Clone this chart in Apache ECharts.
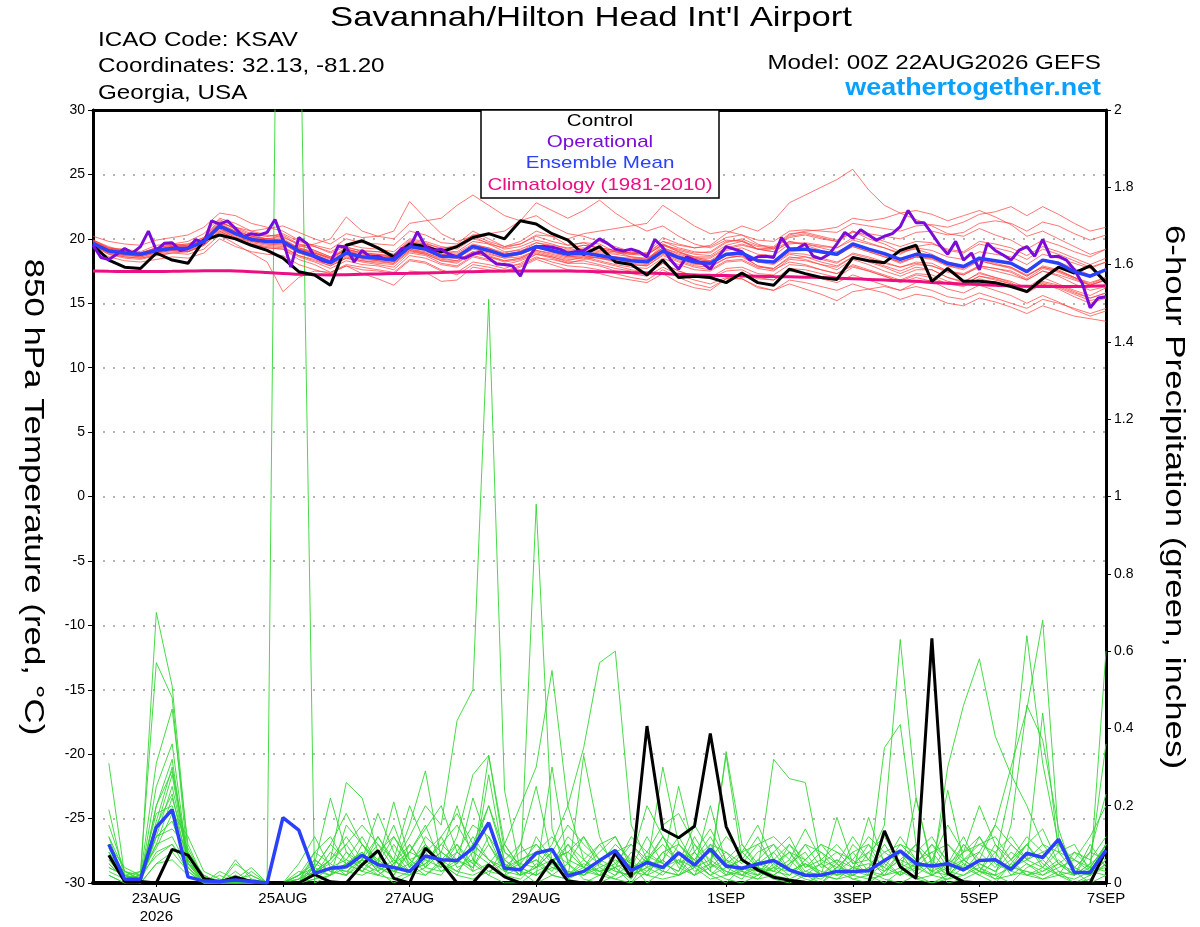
<!DOCTYPE html>
<html>
<head>
<meta charset="utf-8">
<script src="https://cdn.jsdelivr.net/npm/echarts@6/dist/echarts.min.js"></script>
<style>
html,body{margin:0;padding:0;background:#fff;}
#chart{width:1200px;height:927px;}
</style>
</head>
<body>
<div id="chart"></div>
<script>
// ---- x axis tick labels (hours after 00Z 22AUG2026) ----
const tickHours = [24, 72, 120, 168, 240, 288, 336, 384];
const tickLabels = ['23AUG\n2026', '25AUG', '27AUG', '29AUG', '1SEP', '3SEP', '5SEP', '7SEP'];

// ---- 850 hPa temperature, 6-hourly from 00Z 22AUG (65 points) ----
const controlTemp = [
19.5,18.35,17.8,17.7,18.9,18.35,18.1,19.9,20.3,20.0,19.5,19.1,18.5,
17.45,17.2,16.4,19.5,19.85,19.3,18.6,19.6,19.4,19.0,19.4,20.1,20.4,
20.0,21.4,21.15,20.4,19.9,18.8,19.4,18.2,18.0,17.2,18.35,17.0,17.1,
17.0,16.6,17.35,16.6,16.4,17.65,17.3,17.0,16.85,18.55,18.3,18.15,19.1,
19.5,16.7,17.7,16.7,16.7,16.6,16.3,15.9,16.9,17.8,17.35,17.9,16.6];
const meanTemp = [
19.65,19.05,18.9,18.8,19.1,19.25,19.25,19.8,21.0,20.4,19.95,19.8,19.8,
19.05,18.65,18.15,18.9,18.6,18.5,18.35,19.4,19.2,18.65,18.6,19.4,19.1,
18.7,18.9,19.4,19.1,18.8,18.9,18.7,18.5,18.3,18.2,19.05,18.55,18.2,
18.1,18.8,18.9,18.3,18.2,19.2,19.2,19.0,18.8,19.6,19.2,18.85,18.4,
18.8,18.65,18.1,17.85,18.5,18.3,18.1,17.45,18.35,18.1,17.45,17.1,17.6];
const climoTemp = [
17.5,17.48,17.47,17.46,17.47,17.48,17.5,17.52,17.53,17.5,17.45,17.38,17.3,
17.25,17.22,17.2,17.22,17.25,17.28,17.3,17.32,17.35,17.38,17.42,17.45,17.48,
17.5,17.5,17.5,17.5,17.5,17.48,17.45,17.42,17.38,17.35,17.3,17.25,17.2,
17.17,17.15,17.12,17.1,17.07,17.05,17.02,17.0,16.95,16.9,16.85,16.8,16.75,
16.7,16.62,16.55,16.5,16.45,16.4,16.35,16.32,16.3,16.3,16.3,16.32,16.35];

// ---- operational temperature, 3-hourly (129 points) ----
const operTemp = [
19.5,18.55,18.4,18.8,19.25,18.9,19.4,20.6,19.1,19.65,19.7,19.1,19.25,19.95,19.65,21.4,
21.15,21.4,20.8,20.15,20.4,20.3,20.5,21.5,19.9,17.8,20.1,19.65,18.6,18.3,18.15,19.45,
19.35,18.2,19.1,18.6,18.65,18.4,18.5,19.25,19.3,20.55,19.4,19.1,19.2,18.8,18.6,18.5,
18.8,19.0,18.5,18.05,18.0,17.9,17.1,18.5,19.4,19.4,19.35,19.2,18.9,19.0,19.1,19.5,
20.0,19.65,19.2,19.05,19.2,19.0,18.6,19.95,19.35,18.35,17.65,18.6,18.35,18.1,17.65,18.6,
19.4,19.2,19.0,18.35,18.6,18.65,18.55,20.1,19.2,19.25,19.6,18.65,18.45,18.8,19.6,20.5,
20.05,20.7,20.3,19.9,20.2,20.4,20.95,22.2,21.25,21.25,20.4,19.5,18.8,19.8,18.35,18.9,
17.6,19.65,19.1,18.75,18.35,19.1,19.4,18.65,19.95,18.6,18.65,18.35,17.6,16.55,14.65,15.4,
15.5];

// ---- ensemble member temperatures (65 points each) ----
const ensT1 = [
19.9,19.3,19.2,19.0,19.5,19.6,19.8,20.4,21.6,21.2,20.6,20.3,20.1,
19.6,19.4,18.9,19.4,19.0,19.0,18.8,19.9,19.7,19.2,19.5,20.3,19.8,
19.4,19.8,20.6,20.2,19.5,19.7,19.6,19.0,18.9,18.9,20.1,19.6,19.3,
19.5,20.4,21.0,20.6,21.4,22.8,23.4,24.0,24.6,25.4,23.8,22.6,22.0,
21.5,21.0,20.4,20.2,20.8,20.3,19.9,19.2,19.9,19.5,19.0,18.6,19.2];
const ensT2 = [
19.4,18.8,18.5,18.4,18.7,18.9,19.0,19.5,20.5,20.0,19.6,19.3,19.2,
18.6,18.2,17.7,18.3,18.0,17.9,17.6,18.7,18.5,18.0,17.8,18.6,18.3,
17.9,18.0,18.6,18.2,17.9,17.8,17.6,17.3,17.0,16.8,17.6,17.0,16.5,
16.2,16.9,16.9,16.3,16.0,16.8,16.6,16.3,16.0,16.5,16.1,15.8,15.3,
15.7,15.5,15.0,14.8,15.4,15.1,14.7,14.2,14.8,14.4,14.0,13.8,13.6];
const ensT3 = [
19.8,19.2,19.1,18.9,19.3,19.6,19.4,20.0,21.3,20.8,20.3,20.2,20.4,
19.8,19.5,19.2,20.0,19.7,19.6,19.5,20.6,20.3,19.7,19.6,20.6,20.0,
19.4,19.6,20.2,19.8,19.5,19.7,19.2,19.0,18.6,18.4,19.3,18.6,18.1,
17.9,18.5,18.7,17.9,17.7,18.6,18.4,18.0,17.6,18.4,18.0,17.5,17.1,
17.6,17.6,17.0,16.6,17.4,17.0,16.7,16.2,17.0,16.5,16.0,15.6,16.2];
const ensT4 = [
19.6,19.0,18.7,18.7,19.0,19.2,19.2,19.9,21.2,20.9,20.6,20.8,21.0,
20.5,20.0,19.6,20.4,20.1,20.2,20.0,21.2,21.4,21.6,22.6,23.4,22.6,
21.8,21.4,21.8,21.0,20.4,20.2,19.8,19.4,19.0,18.8,19.5,19.0,18.6,
18.3,18.8,18.9,18.4,18.1,18.9,18.8,18.5,18.2,18.8,18.5,18.1,17.8,
18.1,17.9,17.5,17.2,17.8,17.5,17.2,16.8,17.5,17.2,16.8,16.4,16.9];
const ensT5 = [
19.5,18.9,18.6,18.5,18.7,18.9,18.8,19.2,20.3,19.6,18.9,18.2,15.9,
17.0,17.5,17.4,18.0,17.8,17.6,17.4,18.4,18.2,17.6,17.2,18.0,17.8,
17.5,17.9,18.5,18.4,18.1,18.4,18.6,18.3,18.2,18.4,19.5,19.2,18.9,
19.0,19.8,19.9,19.2,19.0,19.8,19.6,19.3,19.0,19.6,19.1,18.7,18.2,
18.6,18.5,17.9,17.6,18.3,18.0,17.8,17.1,17.9,17.6,17.0,16.5,17.0];
const ensT6 = [
19.9,19.4,19.0,18.9,19.2,19.4,19.5,20.0,21.1,20.6,20.2,20.0,20.0,
19.3,18.9,18.5,19.2,18.9,18.8,18.7,19.7,19.6,19.3,19.4,20.3,20.4,
20.6,21.4,22.8,22.2,21.6,22.2,23.0,22.0,21.2,20.6,21.0,20.2,19.6,
19.3,19.9,19.8,19.2,19.0,19.7,19.6,19.4,19.3,19.9,19.6,19.3,18.9,
19.3,19.1,18.6,18.4,19.0,18.8,18.6,18.0,18.8,18.5,18.1,17.7,18.2];
const ensT7 = [
19.6,19.0,18.8,18.6,18.9,19.1,19.0,19.6,20.8,20.1,19.7,19.5,19.4,
18.7,18.3,17.9,18.5,18.2,18.0,17.8,18.9,18.7,18.1,17.9,18.7,18.4,
18.0,18.3,18.8,18.5,18.1,18.1,17.9,17.5,17.3,17.1,17.8,17.2,16.8,
16.5,17.0,16.9,16.2,16.0,16.5,16.1,15.7,15.2,15.9,16.1,16.3,16.0,
16.6,16.8,16.5,16.4,17.1,16.9,16.5,16.0,16.6,16.3,15.8,15.4,15.8];
const ensT8 = [
19.7,19.2,19.0,18.9,19.2,19.3,19.4,19.9,21.0,20.5,20.0,19.8,19.7,
19.0,18.7,18.3,19.0,18.7,18.6,18.5,19.5,19.3,18.8,18.7,19.5,19.2,
18.8,19.0,19.5,19.3,19.0,19.2,19.0,18.9,18.8,18.9,19.8,19.5,19.3,
19.4,20.1,20.3,19.9,19.8,20.6,20.7,20.6,20.5,21.2,21.0,20.8,20.6,
21.0,21.1,20.9,21.3,21.9,22.1,22.5,21.8,22.5,21.9,21.2,20.6,20.9];
const ensT9 = [
19.8,19.1,18.8,18.8,19.1,19.3,19.4,19.7,20.7,20.1,19.8,19.6,19.5,
19.4,19.6,20.0,21.7,20.6,20.2,20.6,22.9,21.6,20.4,19.8,20.2,19.6,
19.0,19.1,19.4,19.0,18.6,18.7,18.5,18.2,18.0,17.9,18.7,18.2,17.8,
17.6,18.3,18.4,17.8,17.7,18.5,18.6,18.4,18.1,18.9,18.6,18.2,17.8,
18.2,18.1,17.5,17.3,17.9,17.7,17.5,16.9,17.7,17.4,16.9,16.4,16.8];
const ensT10 = [
19.5,18.8,18.6,18.5,18.8,19.0,19.0,19.5,20.6,20.0,19.5,19.3,19.2,
18.4,18.0,17.4,17.9,17.3,16.9,16.4,17.5,17.4,16.7,16.8,17.8,17.6,
17.4,17.8,18.4,18.0,17.6,17.5,17.3,17.0,16.8,16.6,17.3,16.6,16.2,
16.0,16.9,17.3,16.9,16.8,17.7,17.6,17.3,17.0,17.8,17.5,17.1,16.7,
17.2,17.0,16.5,16.3,16.9,16.6,16.4,15.8,16.5,16.2,15.7,15.2,15.5];
const ensT11 = [
19.7,19.1,19.0,18.9,19.3,19.5,19.6,20.1,21.5,20.9,20.4,20.2,20.3,
19.6,19.1,18.6,19.1,18.7,18.6,18.3,19.2,18.9,18.4,18.3,19.0,18.8,
18.5,18.8,19.3,19.1,18.9,19.1,18.9,18.8,18.6,18.5,19.3,18.9,18.6,
18.6,19.3,19.6,19.2,19.2,20.2,20.4,20.1,19.8,20.6,20.0,19.6,19.0,
19.2,18.8,18.2,17.9,18.4,18.1,17.8,17.2,17.8,17.5,17.0,16.4,16.8];
const ensT12 = [
19.6,19.0,18.8,18.7,19.0,19.2,19.1,19.6,20.9,20.3,19.9,19.7,19.9,
19.3,19.0,18.5,19.2,18.9,18.7,18.6,19.6,19.3,18.8,18.6,19.4,19.0,
18.7,19.0,19.7,19.5,19.3,19.5,19.3,19.1,18.9,18.8,19.6,19.0,18.5,
18.2,18.7,18.6,17.9,17.6,18.2,18.0,17.6,17.3,17.9,17.5,17.1,16.6,
17.0,16.7,16.1,15.8,16.4,16.0,15.6,15.0,15.6,15.1,14.5,14.0,14.4];
const ensT13 = [
19.8,19.3,19.1,18.9,19.2,19.4,19.3,19.8,20.8,20.3,20.1,20.0,20.2,
19.5,19.1,18.6,19.3,19.1,19.0,18.8,19.8,19.6,19.0,18.9,19.6,19.3,
18.8,18.9,19.3,19.0,18.8,19.0,18.8,18.6,18.5,18.4,19.2,18.7,18.4,
18.3,19.1,19.3,18.8,18.7,19.6,19.7,19.5,19.3,20.1,19.7,19.3,18.8,
19.4,19.6,19.2,19.0,19.8,19.6,19.3,18.7,19.4,19.0,18.5,18.0,18.5];
const ensT14 = [
19.6,19.0,18.9,18.8,19.0,19.2,19.3,19.7,20.9,20.4,19.9,19.7,19.6,
18.9,18.5,18.0,18.6,18.3,18.2,18.1,19.1,18.9,18.5,18.3,19.0,18.7,
18.3,18.5,19.1,18.9,18.6,18.7,18.5,18.3,18.1,18.0,18.9,18.4,18.0,
18.0,18.7,18.8,18.3,18.2,19.0,19.1,18.9,18.7,19.4,19.0,18.6,18.1,
18.6,18.5,18.0,17.8,18.5,18.3,18.1,17.6,18.4,18.2,17.7,17.2,17.7];
const ensT15 = [
19.7,19.2,18.9,18.8,19.1,19.4,19.3,19.9,21.1,20.5,20.1,19.9,19.8,
19.1,18.8,18.3,18.8,18.5,18.4,18.3,19.3,19.1,18.6,18.5,19.3,19.0,
18.6,18.8,19.3,19.1,18.8,18.9,18.7,18.6,18.4,18.4,19.3,18.8,18.5,
18.5,19.2,19.5,19.2,19.3,20.3,20.6,20.7,20.9,21.6,21.4,21.6,22.0,
22.2,21.9,21.4,21.8,22.2,21.7,21.1,20.2,20.6,20.0,19.4,18.8,19.2];
const ensT16 = [
19.9,19.3,19.0,18.9,19.3,19.5,19.6,20.1,21.4,20.7,20.2,20.0,19.9,
19.2,18.8,18.1,18.7,18.4,18.3,18.2,19.2,19.0,18.6,18.5,19.2,18.9,
18.5,18.6,19.1,18.8,18.5,18.6,18.3,18.0,17.8,17.7,18.5,18.0,17.6,
17.5,18.2,18.3,17.7,17.5,18.4,18.3,18.0,17.8,18.6,18.2,17.8,17.3,
17.8,17.6,17.0,16.7,17.3,17.0,16.6,15.9,16.5,16.1,15.5,15.0,15.4];
const ensT17 = [
20.2,19.8,19.6,19.5,19.9,20.1,20.3,20.9,22.0,21.8,21.2,20.9,20.6,
19.9,19.4,19.0,19.6,19.3,19.2,19.0,20.0,19.8,19.4,19.2,20.0,19.7,
19.2,19.4,19.9,19.6,19.2,19.5,19.3,19.1,18.9,18.8,19.8,19.3,19.0,
18.9,19.7,20.0,19.5,19.4,20.4,20.5,20.2,19.9,20.6,20.2,19.8,19.4,
19.8,19.7,19.1,18.9,19.6,19.3,19.0,18.4,19.2,18.8,18.3,17.8,18.2];
const ensT18 = [
19.3,18.6,18.3,18.2,18.4,18.6,18.5,18.9,20.0,19.4,19.0,18.8,18.7,
18.0,17.6,17.3,17.9,17.6,17.5,17.3,18.3,18.1,17.5,17.4,18.2,18.0,
17.7,18.1,18.8,18.6,18.3,18.6,18.5,18.3,18.0,17.9,18.8,18.3,17.9,
17.8,18.5,18.7,18.2,18.0,18.8,18.6,18.2,17.9,18.6,18.3,17.9,17.5,
18.0,17.9,17.4,17.2,17.9,17.7,17.4,16.8,17.5,17.1,16.5,16.0,16.3];
const ensT19 = [
19.7,19.0,18.8,18.7,19.1,19.2,19.3,19.9,21.1,20.5,20.0,19.9,19.8,
19.2,18.9,18.4,19.1,18.8,18.7,18.6,19.6,19.4,18.9,18.8,19.5,19.3,
18.9,19.2,19.7,19.4,19.1,19.3,19.1,19.0,18.8,18.7,19.6,19.1,18.8,
18.7,19.5,19.8,19.4,19.3,20.1,20.3,20.0,19.8,20.5,20.4,20.2,20.0,
20.5,20.6,20.3,20.5,21.2,21.4,21.2,20.6,21.3,21.0,20.4,19.9,20.3];
const ensT20 = [
19.6,19.1,18.9,18.7,19.0,19.3,19.2,19.7,20.8,20.2,19.8,19.6,19.6,
18.9,18.6,18.2,18.8,18.5,18.3,18.1,19.1,18.8,18.3,18.2,18.9,18.6,
18.3,18.5,19.0,18.7,18.4,18.5,18.2,17.9,17.6,17.4,18.1,17.5,17.1,
16.9,17.5,17.6,17.0,16.8,17.5,17.3,16.9,16.6,17.2,16.8,16.4,16.0,
16.3,16.0,15.5,15.3,15.8,15.4,15.0,14.6,15.3,15.0,14.6,14.2,14.6];
const ensT21 = [
19.8,19.2,19.0,18.9,19.2,19.4,19.5,20.0,21.2,20.6,20.2,20.0,19.9,
19.2,18.9,18.5,19.2,18.9,18.8,18.6,19.6,19.5,19.1,19.0,19.8,19.6,
19.3,19.6,20.3,20.2,20.0,20.4,20.6,20.8,21.0,21.2,22.6,21.8,21.0,
20.4,20.6,20.3,19.6,19.2,19.8,19.5,19.1,18.8,19.4,19.0,18.6,18.2,
18.6,18.4,17.9,17.7,18.3,18.0,17.7,17.1,17.8,17.5,17.0,16.6,17.0];
const ensT22 = [
19.5,18.9,18.7,18.6,18.9,19.1,19.0,19.5,20.6,20.0,19.6,19.4,19.3,
18.7,18.4,17.9,18.5,18.3,18.1,18.0,19.0,18.8,18.3,18.1,18.9,18.6,
18.2,18.4,18.9,18.6,18.2,18.3,18.0,17.7,17.5,17.3,18.1,17.5,17.1,
17.0,17.7,17.8,17.3,17.2,18.0,17.9,17.6,17.3,18.0,17.6,17.2,16.8,
17.3,17.2,16.7,16.5,17.1,16.8,16.5,15.9,16.7,16.4,15.9,15.4,15.8];

// ---- 6-hour precipitation, from 06Z 22AUG (64 points) ----
const controlPrecip = [
0.072,0.004,0.004,0,0.087,0.072,0.012,0.003,0.015,0.004,0,0,0,0.022,0.003,0,
0.047,0.084,0.012,0,0.09,0.052,0,0,0.047,0.016,0,0,0.06,0.005,0,0,
0.077,0.015,0.406,0.139,0.117,0.147,0.387,0.146,0.06,0.034,0.015,0.007,0.002,0,0,0,
0,0.135,0.042,0.012,0.633,0.025,0.003,0,0,0,0,0,0,0,0,0.085];
const meanPrecip = [
0.1,0.01,0.01,0.144,0.19,0.016,0.005,0.004,0.008,0.004,0,0.169,0.137,0.025,0.038,0.042,
0.072,0.047,0.04,0.03,0.07,0.06,0.058,0.09,0.156,0.038,0.034,0.077,0.087,0.018,0.03,0.058,
0.084,0.032,0.053,0.04,0.078,0.046,0.088,0.044,0.038,0.049,0.058,0.034,0.02,0.02,0.03,0.03,
0.032,0.058,0.083,0.05,0.044,0.05,0.034,0.058,0.06,0.035,0.077,0.066,0.113,0.027,0.027,0.085];

const ensP1 = [
0.05,0.01,0.02,0.12,0.25,0.06,0,0,0,0,0,4.0,2.5,0,0.02,0.05,
0.08,0.03,0,0.02,0.06,0.04,0.1,0.05,0.02,0,0,0.03,0.05,0.01,0,0.02,
0.04,0,0.03,0.06,0.02,0.08,0.03,0.01,0,0.02,0.04,0.01,0,0.02,0.05,0.01,
0,0.03,0.08,0.02,0,0.01,0.04,0.02,0,0.05,0.02,0.01,0.03,0,0.02,0.06];
const ensP2 = [
0.31,0.02,0.01,0.7,0.51,0.08,0.01,0,0,0,0,0,0,0.03,0.06,0.1,
0.04,0.02,0.05,0.12,0.2,0.15,0.42,0.5,1.51,0.24,0.03,0,0.02,0.05,0.01,0,
0.02,0.05,0,0.03,0.1,0.06,0.02,0,0.04,0.03,0.01,0,0.02,0,0.04,0.08,
0.03,0.01,0,0.02,0.05,0,0.01,0.03,0.02,0,0.04,0.06,0.02,0,0.01,0.05];
const ensP3 = [
0.19,0.01,0.03,0.57,0.48,0.05,0,0,0.02,0,0,0,0,0.05,0.03,0.02,
0.1,0.06,0.03,0.08,0.15,0.05,0.02,0.1,0.2,0.06,0.02,0.98,0.14,0.02,0.05,0.03,
0.01,0,0.06,0.12,0.04,0.02,0.05,0.03,0.01,0.06,0.1,0.03,0.01,0,0.03,0.02,
0.04,0.1,0.04,0.01,0,0.02,0.06,0.03,0.01,0.05,0.1,0.04,0.02,0.03,0,0.02];
const ensP4 = [
0.15,0.03,0.02,0.31,0.45,0.1,0.01,0,0,0,0,0,0,0.02,0.08,0.05,
0.03,0.08,0.12,0.05,0.02,0.06,0.1,0.03,0.05,0.1,0.2,0.3,0.55,0.2,0.06,0.02,
0.04,0.01,0.07,0.05,0.03,0.1,0.04,0.06,0.02,0.01,0.05,0.08,0.02,0.01,0.04,0.03,
0.02,0,0.03,0.05,0.02,0.04,0.1,0.06,0.15,0.3,0.45,0.68,0.12,0.04,0.02,0.05];
const ensP5 = [
0.12,0,0.01,0.25,0.36,0.05,0,0,0,0,0,0,0.01,0.03,0.05,0.02,
0.06,0.04,0.02,0.1,0.04,0.08,0.05,0.12,0.06,0.03,0.05,0.04,0.1,0.2,0.35,0.57,
0.6,0.15,0.06,0.03,0.02,0.05,0.08,0.04,0.02,0.06,0.03,0.1,0.06,0.02,0.01,0.04,
0.05,0.03,0.06,0.1,0.02,0.3,0.46,0.58,0.38,0.28,0.2,0.1,0.05,0.02,0.08,0.23];
const ensP6 = [
0.1,0.02,0,0.2,0.29,0.07,0.02,0,0.05,0.02,0,0,0,0.01,0.04,0.06,
0.12,0.05,0.21,0.06,0.03,0.02,0.08,0.05,0.33,0.1,0.04,0.06,0.02,0.01,0.33,0.12,
0.03,0.02,0.04,0.3,0.1,0.05,0.02,0.06,0.04,0.02,0.08,0.03,0.05,0.02,0.17,0.05,
0.06,0.15,0.63,0.22,0.05,0.03,0.08,0.12,0.06,0.25,0.64,0.31,0.1,0.04,0.02,0.6];
const ensP7 = [
0.08,0.01,0.02,0.15,0.23,0.04,0,0.03,0.01,0.04,0,0,0.02,0.05,0.22,0.08,
0.05,0.1,0.04,0.15,0.29,0.06,0.03,0.08,0.05,0.02,0.1,0.25,0.06,0.03,0.02,0.06,
0.08,0.04,0.12,0.05,0.25,0.08,0.03,0.34,0.1,0.04,0.02,0.05,0.08,0.02,0.03,0.01,
0.02,0.35,0.41,0.1,0.03,0.05,0.12,0.04,0.02,0.15,0.46,0.37,0.14,0.02,0.05,0.36];
const ensP8 = [
0.06,0.03,0.01,0.12,0.14,0.09,0.01,0,0.06,0.01,0,0,0.03,0.02,0.06,0.26,
0.22,0.08,0.03,0.05,0.1,0.04,0.12,0.28,0.33,0.08,0.04,0.02,0.3,0.05,0.02,0.04,
0.06,0.03,0.08,0.05,0.03,0.12,0.05,0.33,0.06,0.03,0.32,0.27,0.26,0.05,0.02,0.03,
0.17,0.05,0.02,0.22,0.04,0.24,0.06,0.03,0.1,0.04,0.06,0.44,0.08,0.03,0.02,0.1];
const ensP9 = [
0.04,0.02,0.03,0.09,0.18,0.12,0.03,0.01,0,0.03,0,0,0.05,0.12,0.04,0.03,
0.06,0.18,0.08,0.03,0.05,0.1,0.06,0.03,0.28,0.05,0.02,0.12,0.06,0.08,0.04,0.1,
0.05,0.1,0.06,0.04,0.08,0.03,0.05,0.02,0.08,0.1,0.05,0.02,0.06,0.1,0.05,0.02,
0.04,0.08,0.05,0.03,0.06,0.02,0.1,0.05,0.03,0.08,0.05,0.02,0.04,0.06,0.03,0.1];
const ensP10 = [
0.02,0,0.01,0.08,0.1,0.05,0.02,0,0.03,0,0,0,0.02,0.08,0.12,0.05,
0.03,0.06,0.15,0.04,0.08,0.03,0.05,0.1,0.06,0.02,0.04,0.06,0.03,0.1,0.06,0.03,
0.04,0.06,0.02,0.08,0.05,0.15,0.08,0.02,0.04,0.05,0.03,0.06,0.02,0.05,0.08,0.04,
0.1,0.03,0.06,0.04,0.02,0.05,0.03,0.08,0.04,0.1,0.06,0.08,0.03,0.02,0.05,0.08];
const ensP11 = [
0.03,0.01,0,0.05,0.08,0.03,0,0.02,0,0,0,0,0,0.04,0.02,0.15,
0.1,0.04,0.02,0.08,0.14,0.2,0.08,0.04,0.12,0.03,0.06,0.08,0.04,0.02,0.06,0.1,
0.12,0.04,0.06,0.1,0.05,0.02,0.04,0.08,0.03,0.02,0.06,0.1,0.04,0.08,0.03,0.06,
0.02,0.05,0.12,0.06,0.03,0.1,0.05,0.02,0.06,0.04,0.1,0.05,0.02,0.08,0.04,0.03];
const ensP12 = [
0.1,0.04,0.02,0.18,0.2,0.06,0.01,0,0,0.01,0,0,0.01,0.06,0.03,0.02,
0.05,0.03,0.06,0.03,0.05,0.08,0.2,0.06,0.03,0.05,0.02,0.04,0.08,0.05,0.12,0.04,
0.02,0.08,0.04,0.02,0.06,0.04,0.2,0.05,0.08,0.04,0.02,0.05,0.1,0.04,0.06,0.02,
0.08,0.04,0.02,0.05,0.1,0.06,0.04,0.12,0.05,0.03,0.02,0.04,0.08,0.1,0.03,0.04];
const ensP13 = [
0.07,0.02,0.01,0.1,0.12,0.04,0,0,0.02,0,0,0,0,0.02,0.04,0.03,
0.02,0.04,0.03,0.02,0.1,0.05,0.03,0.02,0.04,0.06,0.03,0.02,0.04,0.03,0.02,0.05,
0.03,0.02,0.05,0.03,0.02,0.04,0.06,0.03,0.02,0.04,0.03,0.02,0.05,0.03,0.02,0.04,
0.03,0.02,0.04,0.06,0.03,0.02,0.05,0.03,0.02,0.04,0.03,0.02,0.05,0.03,0.02,0.06];
const ensP14 = [
0.02,0,0,0.05,0.06,0.02,0,0,0,0,0,0,0,0.01,0.02,0.04,
0.06,0.02,0.01,0.03,0.02,0.05,0.02,0.01,0.03,0.02,0.01,0.05,0.02,0.01,0.03,0.02,
0.01,0.03,0.02,0.01,0.02,0.04,0.01,0.02,0.03,0.01,0.02,0.01,0.03,0.02,0.01,0.02,
0.01,0.02,0.03,0.01,0.02,0.01,0.02,0.04,0.01,0.02,0.03,0.01,0.02,0.01,0.03,0.02];
const ensP15 = [
0.05,0.01,0.02,0.07,0.1,0.03,0,0,0,0,0,0,0.02,0.04,0.1,0.06,
0.04,0.12,0.06,0.02,0.04,0.03,0.06,0.04,0.1,0.03,0.02,0.04,0.06,0.02,0.04,0.03,
0.05,0.02,0.04,0.06,0.12,0.05,0.02,0.04,0.06,0.12,0.04,0.03,0.05,0.02,0.06,0.04,
0.03,0.06,0.02,0.04,0.08,0.03,0.02,0.05,0.03,0.06,0.02,0.03,0.05,0.02,0.04,0.1];
const ensP16 = [
0.09,0.02,0,0.12,0.16,0.05,0.01,0,0,0,0,0,0,0.03,0.02,0.08,
0.03,0.02,0.05,0.1,0.04,0.12,0.04,0.06,0.02,0.1,0.04,0.02,0.05,0.1,0.04,0.02,
0.08,0.05,0.02,0.04,0.06,0.02,0.1,0.04,0.06,0.02,0.04,0.08,0.03,0.05,0.02,0.1,
0.06,0.02,0.08,0.04,0.05,0.02,0.06,0.03,0.08,0.02,0.05,0.03,0.06,0.02,0.1,0.04];
const ensP17 = [
0.12,0.03,0.01,0.2,0.32,0.04,0,0.01,0,0,0,0,0.01,0.04,0.1,0.18,
0.1,0.05,0.12,0.06,0.08,0.12,0.18,0.1,0.06,0.04,0.08,0.1,0.05,0.12,0.08,0.05,
0.1,0.06,0.2,0.12,0.05,0.08,0.14,0.06,0.1,0.05,0.08,0.12,0.04,0.06,0.1,0.05,
0.08,0.12,0.05,0.1,0.06,0.15,0.08,0.1,0.12,0.06,0.1,0.14,0.05,0.08,0.06,0.12];
const ensP18 = [
0.06,0.01,0.02,0.1,0.22,0.08,0.02,0,0.01,0.02,0,0,0,0.08,0.05,0.1,
0.15,0.1,0.06,0.2,0.1,0.05,0.08,0.15,0.12,0.06,0.1,0.04,0.08,0.15,0.1,0.06,
0.04,0.12,0.08,0.15,0.18,0.1,0.06,0.12,0.08,0.15,0.06,0.04,0.1,0.08,0.05,0.12,
0.06,0.04,0.1,0.08,0.12,0.05,0.08,0.2,0.1,0.06,0.12,0.08,0.1,0.04,0.08,0.06];
const ensP19 = [
0.04,0.02,0,0.14,0.28,0.05,0.01,0,0,0.01,0,0,0.02,0.06,0.03,0.05,
0.08,0.03,0.1,0.04,0.12,0.08,0.05,0.22,0.1,0.04,0.06,0.08,0.12,0.06,0.04,0.08,
0.12,0.05,0.03,0.08,0.1,0.06,0.12,0.05,0.03,0.08,0.1,0.06,0.14,0.06,0.04,0.08,
0.1,0.06,0.08,0.05,0.1,0.04,0.06,0.1,0.08,0.12,0.06,0.04,0.1,0.06,0.12,0.2];
const ensP20 = [
0.08,0.02,0.01,0.16,0.3,0.06,0,0,0.01,0,0,0,0,0.03,0.06,0.12,
0.06,0.12,0.05,0.08,0.06,0.1,0.15,0.08,0.2,0.08,0.05,0.1,0.06,0.08,0.12,0.06,
0.08,0.1,0.05,0.12,0.08,0.06,0.1,0.08,0.05,0.1,0.12,0.08,0.06,0.1,0.08,0.06,
0.12,0.08,0.1,0.06,0.08,0.1,0.06,0.08,0.15,0.1,0.06,0.1,0.08,0.06,0.04,0.1];

const ensTemps = [ensT1,ensT2,ensT3,ensT4,ensT5,ensT6,ensT7,ensT8,ensT9,ensT10,ensT11,
  ensT12,ensT13,ensT14,ensT15,ensT16,ensT17,ensT18,ensT19,ensT20,ensT21,ensT22];
const ensPrecips = [ensP1,ensP2,ensP3,ensP4,ensP5,ensP6,ensP7,ensP8,ensP9,ensP10,
  ensP11,ensP12,ensP13,ensP14,ensP15,ensP16,ensP17,ensP18,ensP19,ensP20];

// ---- helpers: attach forecast hour to each value ----
const tempPairs = arr => arr.map((v, i) => [i * 6, v]);
const operPairs = arr => arr.map((v, i) => [i * 3, v]);
const precipPairs = arr => arr.map((v, i) => [(i + 1) * 6, v]);

const FONT = '"Liberation Sans", Arial, Helvetica, sans-serif';
const COL = {
  red: '#ff4040', green: '#33d633', control: '#000000',
  oper: '#7a0bd8', mean: '#2a40fa', climo: '#ec0f82', site: '#0aa0ff'
};

const series = [];
ensPrecips.forEach((a, k) => series.push({
  name: 'precip member ' + (k + 1), type: 'line', yAxisIndex: 1, data: precipPairs(a),
  symbol: 'none', silent: true, lineStyle: { color: COL.green, width: 0.9 }, z: 2
}));
ensTemps.forEach((a, k) => series.push({
  name: 'temp member ' + (k + 1), type: 'line', yAxisIndex: 0, data: tempPairs(a),
  symbol: 'none', silent: true, lineStyle: { color: COL.red, width: 0.9, opacity: 0.8 }, z: 3
}));
series.push({ name: 'Climatology', type: 'line', yAxisIndex: 0, data: tempPairs(climoTemp),
  symbol: 'none', smooth: true, lineStyle: { color: COL.climo, width: 3 }, z: 4 });
series.push({ name: 'Control precip', type: 'line', yAxisIndex: 1, data: precipPairs(controlPrecip),
  symbol: 'none', lineStyle: { color: COL.control, width: 3 }, z: 5 });
series.push({ name: 'Control', type: 'line', yAxisIndex: 0, data: tempPairs(controlTemp),
  symbol: 'none', lineStyle: { color: COL.control, width: 3 }, z: 5 });
series.push({ name: 'Operational', type: 'line', yAxisIndex: 0, data: operPairs(operTemp),
  symbol: 'none', lineStyle: { color: COL.oper, width: 3 }, z: 6 });
series.push({ name: 'Ensemble Mean precip', type: 'line', yAxisIndex: 1, data: precipPairs(meanPrecip),
  symbol: 'none', lineStyle: { color: COL.mean, width: 3.5 }, z: 7 });
series.push({ name: 'Ensemble Mean', type: 'line', yAxisIndex: 0, data: tempPairs(meanTemp),
  symbol: 'none', lineStyle: { color: COL.mean, width: 3.5 }, z: 7 });

// text element; sx stretches the glyphs horizontally like the reference lettering
const txt = (x, y, text, size, color, align, sx, weight, rot) => ({
  type: 'text', x: x, y: y, z: 120, silent: true, scaleX: sx || 1, scaleY: 1, rotation: rot || 0,
  style: { text: text, font: (weight || 'normal') + ' ' + size + 'px ' + FONT, fill: color,
    align: align, textAlign: align, verticalAlign: 'middle', textVerticalAlign: 'middle' }
});

const chart = echarts.init(document.getElementById('chart'), null, { renderer: 'canvas' });
chart.setOption({
  animation: false,
  backgroundColor: '#ffffff',
  grid: { left: 93, right: 94, top: 110, bottom: 44, containLabel: false },
  xAxis: [{
    type: 'value', min: 0, max: 384, position: 'bottom',
    axisLine: { show: true, onZero: false, lineStyle: { color: '#000', width: 4 } },
    axisTick: { show: true, customValues: tickHours, length: 4, lineStyle: { color: '#000', width: 1 } },
    axisLabel: {
      customValues: tickHours, color: '#000', fontSize: 15, fontFamily: FONT, margin: 7, lineHeight: 18,
      formatter: v => tickLabels[tickHours.indexOf(v)] || ''
    },
    splitLine: { show: false }
  }, {
    type: 'value', min: 0, max: 384, position: 'top',
    axisLine: { show: true, onZero: false, lineStyle: { color: '#000', width: 3 } },
    axisTick: { show: false }, axisLabel: { show: false }, splitLine: { show: false }
  }],
  yAxis: [{
    type: 'value', min: -30, max: 30, interval: 5, position: 'left',
    axisLine: { show: true, onZero: false, lineStyle: { color: '#000', width: 3 } },
    axisTick: { show: true, length: 5, lineStyle: { color: '#000', width: 1 } },
    axisLabel: { color: '#000', fontSize: 14, fontFamily: FONT, margin: 8 },
    splitLine: { show: true, lineStyle: { color: '#b4b4b4', width: 2, type: [2, 8] } }
  }, {
    type: 'value', min: 0, max: 2, interval: 0.2, position: 'right',
    axisLine: { show: true, onZero: false, lineStyle: { color: '#000', width: 3 } },
    axisTick: { show: true, length: 5, lineStyle: { color: '#000', width: 1 } },
    axisLabel: { color: '#000', fontSize: 14, fontFamily: FONT, margin: 8 },
    splitLine: { show: false }
  }],
  series: series,
  graphic: [
    txt(591, 18, "Savannah/Hilton Head Int'l Airport", 28, '#000', 'center', 1.24),
    txt(98, 40, 'ICAO Code: KSAV', 20, '#000', 'left', 1.21),
    txt(98, 66, 'Coordinates: 32.13, -81.20', 20, '#000', 'left', 1.21),
    txt(98, 93, 'Georgia, USA', 20, '#000', 'left', 1.21),
    txt(1101, 63, 'Model: 00Z 22AUG2026 GEFS', 20, '#000', 'right', 1.21),
    txt(1101, 89, 'weathertogether.net', 23, COL.site, 'right', 1.17, 'bold'),
    { type: 'rect', z: 110, silent: true, shape: { x: 481, y: 110, width: 238, height: 88 },
      style: { fill: '#fff', stroke: '#000', lineWidth: 1.5 } },
    txt(600, 121, 'Control', 17, '#000', 'center', 1.21),
    txt(600, 142, 'Operational', 17, COL.oper, 'center', 1.21),
    txt(600, 163, 'Ensemble Mean', 17, COL.mean, 'center', 1.21),
    txt(600, 185, 'Climatology (1981-2010)', 17, COL.climo, 'center', 1.21),
    txt(32, 497, '850 hPa Temperature (red, \u00B0C)', 27, '#000', 'center', 1.29, 'normal', -Math.PI / 2),
    txt(1173, 497, '6-hour Precipitation (green, inches)', 27, '#000', 'center', 1.29, 'normal', -Math.PI / 2)
  ]
});
</script>
</body>
</html>
